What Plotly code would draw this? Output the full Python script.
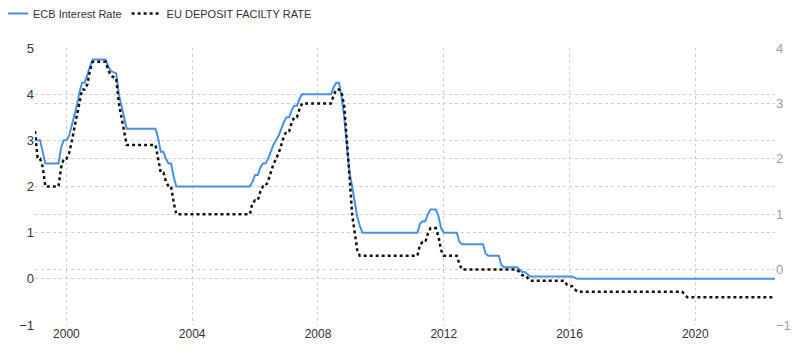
import plotly.graph_objects as go

# ECB main refinancing rate (monthly averages, turning points) - left axis
ecb_dates = [
    "1999-01-01", "1999-03-01", "1999-04-01", "1999-05-01", "1999-10-01", "1999-11-01", "1999-12-01",
    "2000-01-01", "2000-02-01", "2000-03-01", "2000-04-01", "2000-05-01", "2000-06-01", "2000-07-01",
    "2000-08-01", "2000-09-01", "2000-10-01", "2000-11-01", "2001-04-01", "2001-05-01", "2001-06-01",
    "2001-08-01", "2001-09-01", "2001-10-01", "2001-11-01", "2001-12-01", "2002-11-01", "2002-12-01",
    "2003-01-01", "2003-02-01", "2003-03-01", "2003-04-01", "2003-05-01", "2003-06-01", "2003-07-01",
    "2005-11-01", "2005-12-01", "2006-01-01", "2006-02-01", "2006-03-01", "2006-04-01", "2006-05-01",
    "2006-06-01", "2006-07-01", "2006-08-01", "2006-09-01", "2006-10-01", "2006-11-01", "2006-12-01",
    "2007-01-01", "2007-02-01", "2007-03-01", "2007-04-01", "2007-05-01", "2007-06-01", "2007-07-01",
    "2008-06-01", "2008-07-01", "2008-08-01", "2008-09-01", "2008-10-01", "2008-11-01", "2008-12-01",
    "2009-01-01", "2009-02-01", "2009-03-01", "2009-04-01", "2009-05-01", "2009-06-01",
    "2011-03-01", "2011-04-01", "2011-05-01", "2011-06-01", "2011-07-01", "2011-08-01", "2011-10-01",
    "2011-11-01", "2011-12-01", "2012-01-01", "2012-06-01", "2012-07-01", "2012-08-01",
    "2013-04-01", "2013-05-01", "2013-06-01", "2013-10-01", "2013-11-01", "2013-12-01",
    "2014-05-01", "2014-06-01", "2014-07-01", "2014-08-01", "2014-09-01", "2014-10-01",
    "2016-02-01", "2016-03-01", "2016-04-01", "2022-07-15",
]
ecb_values = [
    3.0, 3.0, 2.75, 2.5, 2.5, 2.85, 3.0,
    3.0, 3.1, 3.3, 3.5, 3.75, 4.05, 4.25,
    4.25, 4.45, 4.6, 4.75, 4.75, 4.6, 4.5,
    4.45, 4.0, 3.75, 3.5, 3.25, 3.25, 3.05,
    2.75, 2.75, 2.6, 2.5, 2.5, 2.2, 2.0,
    2.0, 2.1, 2.25, 2.25, 2.4, 2.5, 2.5,
    2.6, 2.75, 2.9, 3.0, 3.1, 3.25, 3.4,
    3.5, 3.5, 3.65, 3.75, 3.75, 3.9, 4.0,
    4.0, 4.15, 4.25, 4.25, 3.95, 3.5, 2.9,
    2.3, 2.0, 1.7, 1.35, 1.15, 1.0,
    1.0, 1.2, 1.25, 1.25, 1.4, 1.5, 1.5,
    1.35, 1.1, 1.0, 1.0, 0.8, 0.75,
    0.75, 0.55, 0.5, 0.5, 0.3, 0.25,
    0.25, 0.2, 0.15, 0.15, 0.1, 0.05,
    0.05, 0.02, 0.0, 0.0,
]

# EU deposit facility rate (monthly averages, turning points) - right axis
dep_dates = [
    "1999-01-01", "1999-02-01", "1999-03-01", "1999-04-01", "1999-05-01", "1999-10-01", "1999-11-01",
    "1999-12-01", "2000-01-01", "2000-02-01", "2000-03-01", "2000-04-01", "2000-05-01", "2000-06-01",
    "2000-07-01", "2000-08-01", "2000-09-01", "2000-10-01", "2000-11-01", "2001-04-01", "2001-05-01",
    "2001-06-01", "2001-08-01", "2001-09-01", "2001-10-01", "2001-11-01", "2001-12-01", "2002-11-01",
    "2002-12-01", "2003-01-01", "2003-02-01", "2003-03-01", "2003-04-01", "2003-05-01", "2003-06-01",
    "2003-07-01", "2005-11-01", "2005-12-01", "2006-01-01", "2006-02-01", "2006-03-01", "2006-04-01",
    "2006-05-01", "2006-06-01", "2006-07-01", "2006-08-01", "2006-09-01", "2006-10-01", "2006-11-01",
    "2006-12-01", "2007-01-01", "2007-02-01", "2007-03-01", "2007-04-01", "2007-05-01", "2007-06-01",
    "2007-07-01", "2008-06-01", "2008-07-01", "2008-08-01", "2008-09-01", "2008-10-01", "2008-11-01",
    "2008-12-01", "2009-01-01", "2009-02-01", "2009-03-01", "2009-04-01", "2009-05-01",
    "2011-03-01", "2011-04-01", "2011-05-01", "2011-06-01", "2011-07-01", "2011-08-01", "2011-10-01",
    "2011-11-01", "2011-12-01", "2012-01-01", "2012-06-01", "2012-07-01", "2012-08-01",
    "2014-05-01", "2014-06-01", "2014-07-01", "2014-08-01", "2014-09-01", "2014-10-01",
    "2015-11-01", "2015-12-01", "2016-01-01", "2016-02-01", "2016-03-01", "2016-04-01",
    "2019-08-01", "2019-09-01", "2019-10-01", "2022-07-15",
]
dep_values = [
    2.5, 2.0, 2.0, 1.85, 1.5, 1.5, 1.85,
    2.0, 2.0, 2.1, 2.3, 2.55, 2.75, 3.0,
    3.25, 3.25, 3.35, 3.6, 3.75, 3.75, 3.6,
    3.5, 3.45, 3.0, 2.75, 2.5, 2.25, 2.25,
    2.0, 1.75, 1.75, 1.6, 1.5, 1.5, 1.2,
    1.0, 1.0, 1.2, 1.25, 1.25, 1.4, 1.5,
    1.5, 1.6, 1.75, 1.9, 2.0, 2.1, 2.25,
    2.4, 2.5, 2.5, 2.65, 2.75, 2.75, 2.9,
    3.0, 3.0, 3.15, 3.25, 3.25, 3.2, 2.95,
    2.4, 1.7, 1.0, 0.7, 0.35, 0.25,
    0.25, 0.45, 0.5, 0.5, 0.65, 0.75, 0.75,
    0.6, 0.35, 0.25, 0.25, 0.1, 0.0,
    0.0, -0.05, -0.1, -0.1, -0.15, -0.2,
    -0.2, -0.27, -0.3, -0.3, -0.35, -0.4,
    -0.4, -0.45, -0.5, -0.5,
]

year_ticks = ["2000-01-01", "2004-01-01", "2008-01-01", "2012-01-01", "2016-01-01", "2020-01-01"]
year_labels = ["2000", "2004", "2008", "2012", "2016", "2020"]

fig = go.Figure()
fig.add_trace(go.Scatter(
    x=ecb_dates, y=ecb_values, name="ECB Interest Rate", mode="lines",
    line=dict(color="#4a8fe0", width=2), yaxis="y",
))
fig.add_trace(go.Scatter(
    x=dep_dates, y=dep_values, name="EU DEPOSIT FACILTY RATE", mode="lines",
    line=dict(color="#111111", width=2.5, dash="dot"), yaxis="y2",
))

grid_col = "#cfcfcf"
fig.update_layout(
    width=792, height=348,
    margin=dict(l=27, r=25, t=40, b=31, autoexpand=False),
    paper_bgcolor="white", plot_bgcolor="white",
    font=dict(family="Liberation Sans, Arial, sans-serif", color="#333333"),
    showlegend=True,
    legend=dict(
        orientation="h",
        x=-0.0568, y=1.177, xanchor="left", yanchor="top",
        font=dict(size=11, color="#333333"), bgcolor="rgba(0,0,0,0)",
        traceorder="normal",
    ),
    xaxis=dict(
        type="date", range=["1999-01-01", "2022-07-15"],
        tickvals=year_ticks, ticktext=year_labels,
        showgrid=True, gridcolor=grid_col, griddash="dot", gridwidth=1,
        zeroline=False, showline=False, ticks="", automargin=False,
        tickfont=dict(family="Liberation Sans Narrow, Arial Narrow, Liberation Sans, sans-serif", size=12, color="#333333"),
    ),
    yaxis=dict(
        range=[-1, 5], dtick=1, tick0=0, automargin=False,
        showgrid=True, gridcolor=grid_col, griddash="dot", gridwidth=1,
        zeroline=False, showline=False, ticks="",
        tickfont=dict(size=13, color="#333344"),
    ),
    yaxis2=dict(
        range=[-1, 4], dtick=1, tick0=0, overlaying="y", side="right", automargin=False,
        showgrid=True, gridcolor=grid_col, griddash="dot", gridwidth=1,
        zeroline=False, showline=False, ticks="",
        tickfont=dict(size=13, color="#a0a0a0"),
    ),
)

fig.write_html("out.html")
